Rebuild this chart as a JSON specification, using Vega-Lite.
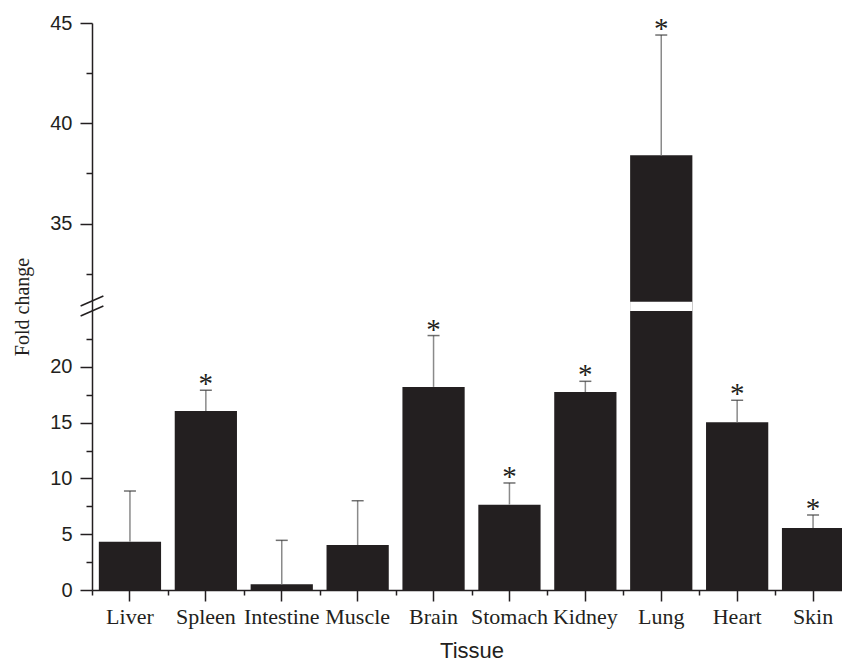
{
  "$schema": "https://vega.github.io/schema/vega-lite/v6.json",
  "autosize": "none",
  "padding": {"left": 92, "top": 23, "right": 0, "bottom": 73},
  "width": 750,
  "height": 567,
  "background": "white",
  "config": {
    "view": {"stroke": null},
    "axis": {"grid": false, "domainColor": "#231f20", "tickColor": "#231f20", "labelColor": "#231f20", "titleColor": "#231f20", "domainWidth": 1.5, "tickWidth": 1.5, "titleFontWeight": "normal"}
  },
  "datasets": {
    "bars": [
      {"tissue": "Liver", "value": 4.33, "upper": 8.87, "sig": false},
      {"tissue": "Spleen", "value": 16.04, "upper": 17.9, "sig": true},
      {"tissue": "Intestine", "value": 0.51, "upper": 4.45, "sig": false},
      {"tissue": "Muscle", "value": 4.03, "upper": 8.0, "sig": false},
      {"tissue": "Brain", "value": 18.2, "upper": 22.8, "sig": true},
      {"tissue": "Stomach", "value": 7.65, "upper": 9.59, "sig": true},
      {"tissue": "Kidney", "value": 17.74, "upper": 18.7, "sig": true},
      {"tissue": "Lung", "value": 38.4, "upper": 44.4, "sig": true},
      {"tissue": "Heart", "value": 15.03, "upper": 17.0, "sig": true},
      {"tissue": "Skin", "value": 5.56, "upper": 6.72, "sig": true}
    ],
    "gap": [{"tissue": "Lung", "g1": 25, "g2": 31.1}],
    "breaks": [
      {"bx": -0.15, "bx2": 0.15, "by": 28.28, "by2": 31.385},
      {"bx": -0.15, "bx2": 0.15, "by": 24.55, "by2": 28.28}
    ]
  },
  "resolve": {"scale": {"x": "independent"}},
  "layer": [
    {
      "layer": [
        {
          "data": {"name": "bars"},
          "mark": {"type": "bar", "color": "#231f20"},
          "encoding": {
            "x": {
              "field": "tissue", "type": "nominal",
              "scale": {"domain": ["Liver", "Spleen", "Intestine", "Muscle", "Brain", "Stomach", "Kidney", "Lung", "Heart", "Skin"], "paddingInner": 0.18, "paddingOuter": 0.09, "range": [0, 759]},
              "axis": {"orient": "bottom", "title": "Tissue", "labelAngle": 0, "tickSize": 11, "labelFont": "Liberation Serif", "labelFontSize": 22, "labelPadding": 5, "titleFont": "Liberation Sans", "titleFontSize": 22, "titlePadding": 13}
            },
            "y": {
              "field": "value", "type": "quantitative", "title": "Fold change",
              "scale": {"domain": [0, 25, 31.1, 45], "range": [567, 288, 278.7, 0], "nice": false, "zero": false},
              "axis": {
                "values": [0, 2.5, 5, 7.5, 10, 12.5, 15, 17.5, 20, 22.5, 32.5, 35, 37.5, 40, 42.5, 45],
                "tickCount": 100,
                "labelExpr": "datum.value % 5 === 0 ? format(datum.value, 'd') : ''",
                "tickSize": {"condition": {"test": "datum.value % 5 === 0", "value": 12}, "value": 6},
                "labelFont": "Liberation Sans", "labelFontSize": 20, "labelPadding": 8,
                "titleFont": "Liberation Serif", "titleFontSize": 20, "titlePadding": 17
              }
            }
          }
        },
        {
          "data": {"name": "gap"},
          "mark": {"type": "bar", "color": "white"},
          "encoding": {
            "x": {"field": "tissue", "type": "nominal"},
            "y": {"field": "g1", "type": "quantitative", "title": "Fold change"},
            "y2": {"field": "g2"}
          }
        },
        {
          "data": {"name": "bars"},
          "mark": {"type": "rule", "color": "#8a8a8a", "strokeWidth": 1.5},
          "encoding": {
            "x": {"field": "tissue", "type": "nominal"},
            "y": {"field": "value", "type": "quantitative", "title": "Fold change"},
            "y2": {"field": "upper"}
          }
        },
        {
          "data": {"name": "bars"},
          "mark": {"type": "tick", "color": "#333333", "size": 12, "thickness": 1.5},
          "encoding": {
            "x": {"field": "tissue", "type": "nominal"},
            "y": {"field": "upper", "type": "quantitative", "title": "Fold change"}
          }
        },
        {
          "data": {"name": "bars"},
          "transform": [{"filter": "datum.sig"}],
          "mark": {"type": "text", "text": "*", "font": "Liberation Serif", "fontSize": 29, "baseline": "alphabetic", "align": "center", "color": "#231f20", "dy": 3},
          "encoding": {
            "x": {"field": "tissue", "type": "nominal"},
            "y": {"field": "upper", "type": "quantitative", "title": "Fold change"}
          }
        }
      ]
    },
    {
      "data": {"name": "breaks"},
      "mark": {"type": "rule", "color": "#231f20", "strokeWidth": 1.5},
      "encoding": {
        "x": {
          "field": "bx", "type": "quantitative",
          "scale": {"domain": [0, 10], "range": [0, 759], "nice": false, "zero": false},
          "axis": {"orient": "bottom", "values": [0, 1, 2, 3, 4, 5, 6, 7, 8, 9, 10], "tickCount": 100, "tickSize": 5, "labels": false, "domain": false, "title": null}
        },
        "x2": {"field": "bx2"},
        "y": {"field": "by", "type": "quantitative", "title": "Fold change"},
        "y2": {"field": "by2"}
      }
    }
  ]
}
